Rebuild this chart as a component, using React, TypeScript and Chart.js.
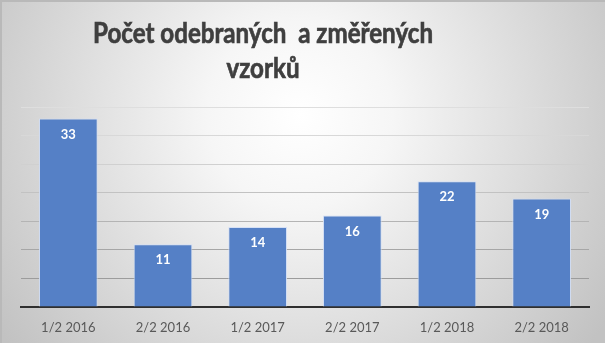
import React, { useEffect, useRef } from "react";
import { Chart, registerables } from "chart.js";

Chart.register(...registerables);

const categories = ["1/2 2016", "2/2 2016", "1/2 2017", "2/2 2017", "1/2 2018", "2/2 2018"];
const values = [33, 11, 14, 16, 22, 19];
const titleLines = ["Počet odebraných  a změřených", "vzorků"];
const yMax = 35;
const yStep = 5;

const W = 605;
const H = 343;

const bgPlugin = {
  id: "bg",
  beforeDraw(chart: any) {
    const ctx = chart.ctx;
    ctx.save();
    const g = ctx.createRadialGradient(300, 115, 0, 300, 115, 370);
    g.addColorStop(0, "#ffffff");
    g.addColorStop(0.25, "#f6f6f6");
    g.addColorStop(1, "#c2c2c2");
    ctx.fillStyle = g;
    ctx.fillRect(0, 0, W, H);
    ctx.fillStyle = "#b9b9b9";
    ctx.fillRect(0, 0, 2, H);
    ctx.fillRect(0, 0, W, 2);
    ctx.restore();
  },
};

const titlePlugin = {
  id: "customTitle",
  afterDraw(chart: any) {
    const ctx = chart.ctx;
    ctx.save();
    ctx.font = "bold 29px Lato";
    ctx.fillStyle = "#3f3f3f";
    ctx.strokeStyle = "#3f3f3f";
    ctx.lineWidth = 0.7;
    ctx.textAlign = "center";
    ctx.textBaseline = "alphabetic";
    const w1 = ctx.measureText(titleLines[0]).width;
    const f = 340 / w1;
    const cx = 263;
    const ys = [43, 78];
    titleLines.forEach((t, i) => {
      ctx.save();
      ctx.translate(cx, ys[i]);
      ctx.scale(f, 1);
      ctx.fillText(t, 0, 0);
      ctx.strokeText(t, 0, 0);
      ctx.restore();
    });
    ctx.restore();
  },
};

const labelPlugin = {
  id: "valueLabels",
  afterDatasetsDraw(chart: any) {
    const ctx = chart.ctx;
    const meta = chart.getDatasetMeta(0);
    ctx.save();
    ctx.font = "bold 13px Lato";
    ctx.fillStyle = "#ffffff";
    ctx.textAlign = "center";
    ctx.textBaseline = "middle";
    meta.data.forEach((bar: any, i: number) => {
      ctx.fillText(String(values[i]), bar.x, bar.y + 16);
    });
    ctx.restore();
  },
};

const gridColors = ["#999999", "#9c9c9c", "#a6a6a6", "#b4b4b4", "#c2c2c2", "#d0d0d0", "#d8d8d8", "#dedede"];

export default function App() {
  const ref = useRef<HTMLCanvasElement>(null);
  useEffect(() => {
    document.body.style.margin = "0";
    const chart = new Chart(ref.current!, {
      type: "bar",
      data: {
        labels: categories,
        datasets: [
          {
            data: values,
            backgroundColor: "#5580C6",
            borderColor: "rgba(210,222,245,0.9)",
            borderWidth: 1,
            barPercentage: 0.62,
            categoryPercentage: 1,
          },
        ],
      },
      plugins: [bgPlugin, titlePlugin, labelPlugin],
      options: {
        responsive: false,
        animation: false,
        layout: { padding: { left: 21, right: 16, top: 107, bottom: 0 } },
        plugins: {
          legend: { display: false },
          title: { display: false },
          tooltip: { enabled: false },
        },
        scales: {
          x: {
            grid: { display: false, drawTicks: false },
            border: { display: true, color: "#2f2f2f", width: 2 },
            ticks: {
              color: "#595959",
              font: { family: "Lato", size: 13 },
              padding: 13,
              maxRotation: 0,
            },
            afterFit(scale: any) {
              scale.height = 36;
            },
          },
          y: {
            min: 0,
            max: yMax,
            ticks: { display: false, stepSize: yStep },
            grid: {
              color: (c: any) => gridColors[c.index] || "#aaaaaa",
              lineWidth: 1,
              drawTicks: false,
            },
            border: { display: false },
            afterFit(scale: any) {
              scale.width = 0;
            },
          },
        },
      },
    });
    return () => chart.destroy();
  }, []);
  return (
    <div style={{ width: W, height: H }}>
      <canvas ref={ref} width={W} height={H} style={{ display: "block" }} />
    </div>
  );
}
